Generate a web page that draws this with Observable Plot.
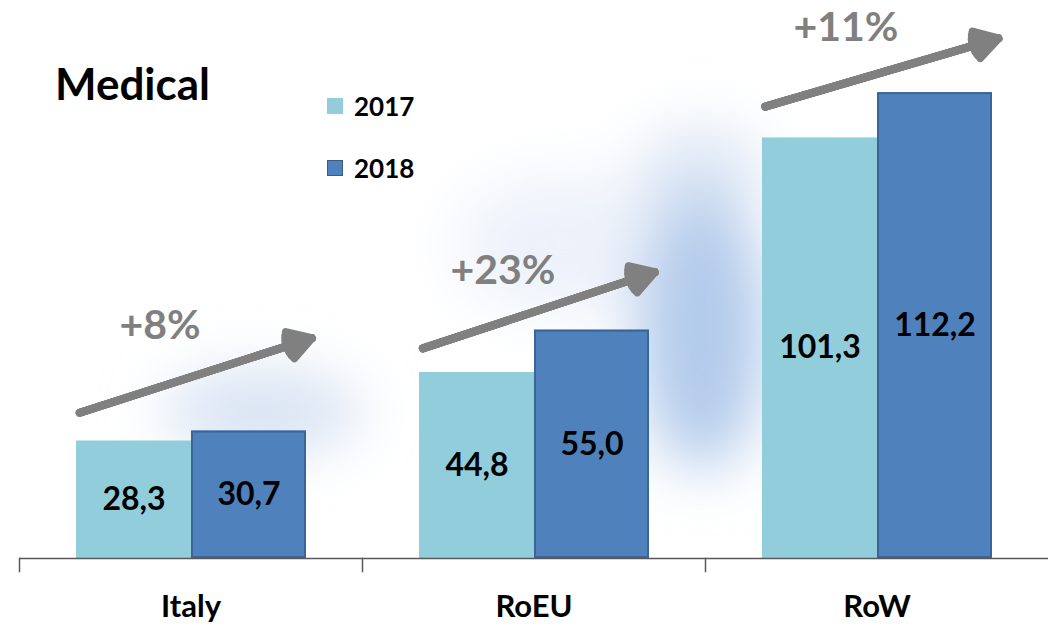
<!DOCTYPE html>
<html>
<head>
<meta charset="utf-8">
<script src="https://cdn.jsdelivr.net/npm/d3@7"></script>
<script src="https://cdn.jsdelivr.net/npm/@observablehq/plot@0.6"></script>
<style>
  html, body { margin: 0; padding: 0; background: #fff; }
  #wrap { position: relative; width: 1048px; height: 628px; font-family: Lato, "Open Sans", sans-serif; }
  #title { position: absolute; left: 55px; top: 61px; font-size: 44px; line-height: 44px; font-weight: bold; color: #000; z-index: 2; }
  .lg { position: absolute; left: 327px; display: flex; align-items: center; z-index: 2; }
  .sw { width: 16px; height: 16px; box-sizing: border-box; }
  .lt { margin-left: 11px; font-size: 26px; line-height: 26px; font-weight: bold; color: #000; }
</style>
</head>
<body>
<div id="wrap">
  <div id="title">Medical</div>
  <div id="legend"></div>
</div>
<script>
// ---- data ----
const regions = ["Italy", "RoEU", "RoW"];
const years = ["2017", "2018"];
const values2017 = [28.3, 44.8, 101.3];
const values2018 = [30.7, 55.0, 112.2];
const growthLabels = ["+8%", "+23%", "+11%"];
// growth-arrow annotation (value-space, read at the 2017 / 2018 bar centres)
const arrowFrom = [39.3, 54.9, 112.7];
const arrowTo = [48.2, 64.0, 120.8];
const growthLabelY = [56.1, 69.3, 127.9];
const yearColors = ["#92CDDC", "#4F81BD"];

const data = regions.flatMap((r, i) => [
  {region: r, year: years[0], value: values2017[i]},
  {region: r, year: years[1], value: values2018[i]}
]);
const growth = regions.map((r, i) => ({
  region: r, from: arrowFrom[i], to: arrowTo[i], label: growthLabels[i], ly: growthLabelY[i]
}));
const fmt = v => v.toFixed(1).replace(".", ",");

// arrow: a thick shaft plus a fan of wings that together form a solid head
const arrowOpts = {fx: "region", x1: () => years[0], x2: () => years[1], y1: "from", y2: "to",
  stroke: "#808080", strokeWidth: 8, insetStart: -57, insetEnd: -66, strokeLinejoin: "miter"};
const arrowHeads = [62, 46, 30, 14].map(a => Plot.arrow(growth, {...arrowOpts, headLength: 5, headAngle: a}));

const chart = Plot.plot({
  width: 1048,
  height: 628,
  marginLeft: 18,
  marginRight: 0,
  marginTop: 0,
  marginBottom: 70,
  style: {fontFamily: "Lato, 'Open Sans', sans-serif", background: "transparent", overflow: "visible"},
  fx: {domain: regions, padding: 0, label: null},
  x: {domain: years, paddingInner: 0, paddingOuter: 0.489, axis: null},
  y: {domain: [0, 134.4], axis: null},
  color: {domain: years, range: yearColors},
  marks: [
    Plot.barY(data, {fx: "region", x: "year", y: "value", fill: "year"}),
    Plot.barY(data.filter(d => d.year === years[1]), {fx: "region", x: "year", y: "value", fill: "none", stroke: "#3A6596", strokeWidth: 2, inset: 1}),
    Plot.text(data, {fx: "region", x: "year", y: d => d.value / 2, text: d => fmt(d.value), fontSize: 32, fontWeight: "bold", fill: "#000"}),
    ...arrowHeads,
    Plot.text(growth, {fx: "region", x: () => years[0], y: "ly", text: "label", dx: 26, fontSize: 41, fontWeight: "bold", fill: "#808080"}),
    Plot.ruleY([0], {stroke: "#595959", strokeWidth: 1.5}),
    Plot.frame({anchor: "left", stroke: "#595959", strokeWidth: 1.5, insetTop: 558, insetBottom: -13}),
    Plot.axisFx({anchor: "bottom", tickSize: 0, tickPadding: 36, fontSize: 31, fontWeight: "bold", fill: "#000", label: null})
  ]
});

// soft blue background glows (decoration behind the marks)
const ns = "http://www.w3.org/2000/svg";
const defs = document.createElementNS(ns, "defs");
const filter = document.createElementNS(ns, "filter");
filter.setAttribute("id", "soft");
filter.setAttribute("x", "-100%"); filter.setAttribute("y", "-100%");
filter.setAttribute("width", "300%"); filter.setAttribute("height", "300%");
const blur = document.createElementNS(ns, "feGaussianBlur");
blur.setAttribute("stdDeviation", "30");
filter.append(blur);
defs.append(filter);
const glows = [
  {color: "#edf2fa", cx: 565, cy: 245, rx: 110, ry: 70},
  {color: "#d5e1f2", cx: 262, cy: 412, rx: 100, ry: 40},
  {color: "#dfe8f5", cx: 700, cy: 175, rx: 65, ry: 50},
  {color: "#b2cbeb", cx: 702, cy: 330, rx: 65, ry: 140}
];
const bg = document.createElementNS(ns, "g");
bg.setAttribute("filter", "url(#soft)");
for (const g of glows) {
  const e = document.createElementNS(ns, "ellipse");
  e.setAttribute("cx", g.cx); e.setAttribute("cy", g.cy); e.setAttribute("rx", g.rx); e.setAttribute("ry", g.ry);
  e.setAttribute("fill", g.color);
  bg.append(e);
}
chart.insertBefore(bg, chart.firstChild);
chart.insertBefore(defs, chart.firstChild);
chart.style.position = "absolute";
chart.style.left = "0";
chart.style.top = "0";
document.getElementById("wrap").appendChild(chart);

// legend
const legend = document.getElementById("legend");
years.forEach((y, i) => {
  const row = document.createElement("div");
  row.className = "lg";
  row.style.top = (i === 0 ? 93 : 155) + "px";
  const sw = document.createElement("div");
  sw.className = "sw";
  sw.style.background = yearColors[i];
  if (i === 1) sw.style.border = "1px solid #385D8A";
  const t = document.createElement("div");
  t.className = "lt";
  t.textContent = y;
  row.append(sw, t);
  legend.append(row);
});
</script>
</body>
</html>
